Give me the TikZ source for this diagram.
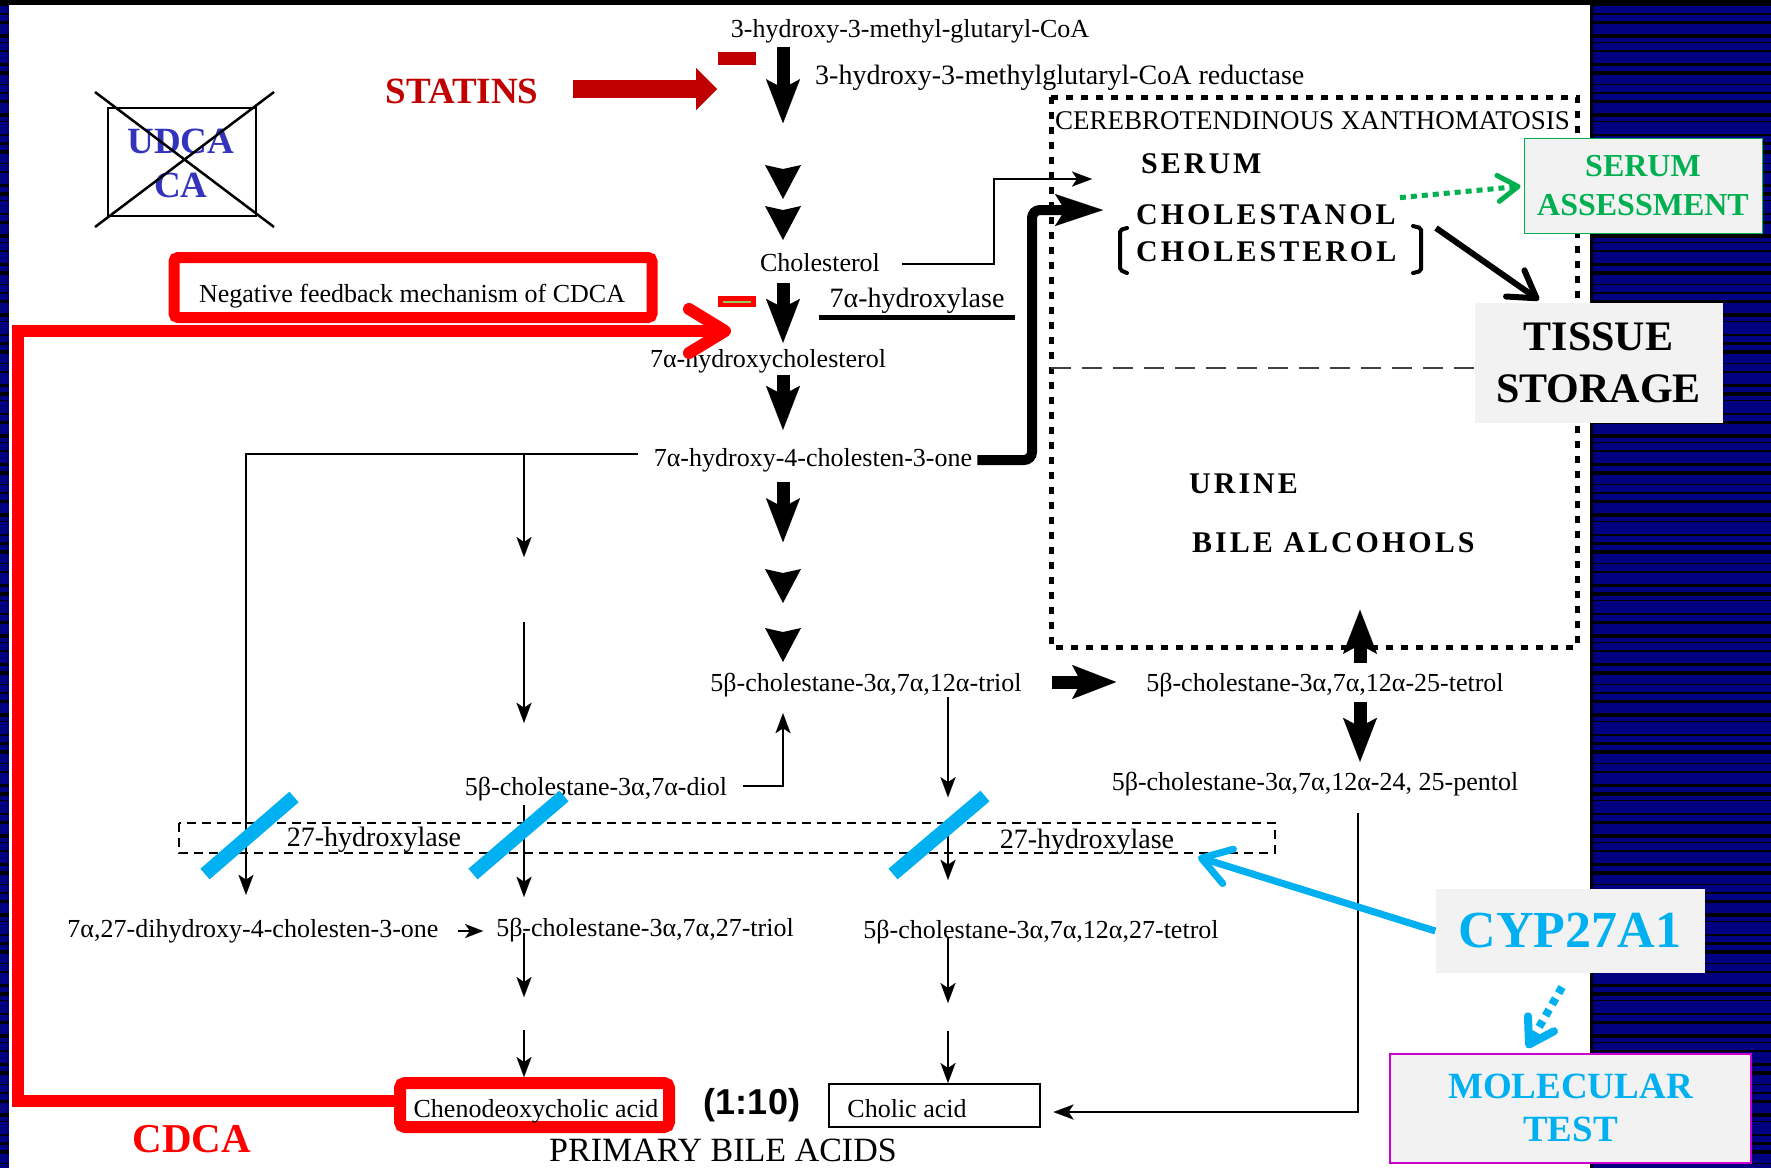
\documentclass[tikz,border=0pt]{standalone}
\usepackage{fontspec}
\setmainfont{Liberation Serif}
\newfontfamily\sansf{Liberation Sans}
\usetikzlibrary{arrows.meta,calc}
\definecolor{navybg}{HTML}{000080}
\definecolor{darkred}{HTML}{C00000}
\definecolor{brightred}{HTML}{FF0000}
\definecolor{cyanb}{HTML}{00B0F0}
\definecolor{greenb}{HTML}{00B050}
\definecolor{udcablue}{HTML}{3333BB}
\definecolor{boxgray}{HTML}{F2F2F2}
\definecolor{magentab}{HTML}{CC00CC}
\definecolor{limeb}{HTML}{92D050}
\newcommand\chevtip[2]{\fill (#1-18,#2) -- (#1,#2+4) -- (#1+18,#2) -- (#1,#2+34) -- cycle;}
\begin{document}
\begin{tikzpicture}[x=1pt,y=-1pt,
  txt/.style={inner sep=0pt,text height=21pt,text depth=3pt,font=\fontsize{26}{30}\selectfont},
  enz/.style={inner sep=0pt,text height=21pt,text depth=4pt,font=\fontsize{28}{32}\selectfont},
  capsb/.style={inner sep=0pt,anchor=west,font=\fontsize{30}{34}\selectfont\bfseries\addfontfeatures{LetterSpace=10}},
  thickar/.style={line width=13pt,-{Stealth[length=44pt,width=34pt,inset=9pt,line width=0.01pt]}},
  thinar/.style={line width=2pt,-{Stealth[length=20pt,width=15pt,inset=5pt,line width=0.01pt]}},
  graybox/.style={fill=boxgray,inner sep=0pt,align=center},
  bigtxt/.style={inner sep=0pt}
]
\useasboundingbox (0,0) rectangle (1771,1168);
% background
\fill[navybg] (0,0) rectangle (1771,1168);
\foreach \k in {0,...,116} {
  \pgfmathtruncatemacro\t{1+mod(\k*5,4)}
  \pgfmathtruncatemacro\yy{\k*10+mod(\k*3,5)}
  \fill[black] (0,\yy) rectangle (1771,\yy+\t);
}
\fill[black] (0,0) rectangle (1771,6);
\fill[black] (1588,5) rectangle (1593,1168);
\fill[white] (9,5) rectangle (1590,1168);

% UDCA / CA crossed box
\node[bigtxt,text=udcablue,font=\fontsize{37}{40}\selectfont\bfseries] (udca) at (181,141) {UDCA};
\node[bigtxt,text=udcablue,font=\fontsize{37}{40}\selectfont\bfseries] (ca) at (181,185) {CA};
\draw[line width=2.5pt] (108,108) rectangle (256,216);
\draw[line width=2.5pt] (95,92) -- (274,227) (95,227) -- (274,92);

% statins
\node[bigtxt,text=darkred,font=\fontsize{37}{40}\selectfont\bfseries] (statins) at (462,91) {STATINS};
\coordinate (stattip) at (717,89);
\draw[darkred,line width=18pt,-{Triangle[length=21pt,width=42pt,line width=0.01pt]},shorten <=34pt] (statins.east |- stattip) -- (stattip);
\fill[darkred] (718,52) rectangle (756,65);

% main column
\coordinate (mainx) at (783,0);
\node[txt] (hmg) at (910,28) {3-hydroxy-3-methyl-glutaryl-CoA};
\node[enz,anchor=west] (reduct) at (815,76) {3-hydroxy-3-methylglutaryl-CoA reductase};
\draw[thickar,shorten <=7pt] (hmg.south -| mainx) -- ++(0,83);
\chevtip{783}{165}
\chevtip{783}{206}
\node[txt] (chol) at (820,262) {Cholesterol};
\node[enz] (h7) at (917,299) {7α-hydroxylase};
\draw[line width=5pt] (819,317) -- (1015,317);
\node[txt] (hchol) at (768,358) {7α-hydroxycholesterol};
\draw[thickar,shorten <=9pt,shorten >=3pt] (chol.south -| mainx) -- (hchol.north -| mainx);
\fill[brightred] (718,296) rectangle (756,307);
\draw[limeb,line width=2pt] (723,301.5) -- (751,301.5);
\node[txt] (hc4) at (813,457) {7α-hydroxy-4-cholesten-3-one};
\draw[thickar,shorten <=5pt,shorten >=15pt] (hchol.south -| mainx) -- (hc4.north -| mainx);
\draw[thickar,shorten <=13pt] (hc4.south -| mainx) -- ++(0,73);
\chevtip{783}{569}
\chevtip{783}{628}
\node[txt] (triol) at (866,682) {5β-cholestane-3α,7α,12α-triol};

% negative feedback box
\node[draw=brightred,line width=11pt,rounded corners=4pt,minimum width=478pt,minimum height=60pt,inner sep=0pt] (negbox) at (413,287.5) {};
\node[txt] (neg) at (412,293) {Negative feedback mechanism of CDCA};

% CXT box
\draw[line width=5pt,dash pattern=on 7pt off 8pt] (1051,97) rectangle (1577,647);
\draw[line width=2.5pt,dash pattern=on 20pt off 11pt,black!75] (1051,368) -- (1474,368);
\node[inner sep=0pt,anchor=west,font=\fontsize{27}{30}\selectfont] (cxt) at (1055,121) {CEREBROTENDINOUS XANTHOMATOSIS};
\node[capsb] (serum) at (1141,164) {SERUM};
\node[capsb] (cholestanol) at (1136,215) {CHOLESTANOL};
\node[capsb] (cholesterol) at (1136,252) {CHOLESTEROL};
\node[capsb] (urine) at (1189,484) {URINE};
\node[capsb] (bile) at (1192,543) {BILE ALCOHOLS};
\draw[line width=4pt,line cap=round,rounded corners=2pt] (1127,228) -- (1120,230) -- (1120,270) -- (1127,273);
\draw[line width=4pt,line cap=round,rounded corners=2pt] (1413,226) -- (1421,228) -- (1421,271) -- (1413,273);

% connectors into CXT
\coordinate (cxtin) at (1103,210);
\coordinate (bendx) at (1032,0);
\draw[line width=10pt,rounded corners=8pt,-{Stealth[length=48pt,width=32pt,inset=10pt,line width=0.01pt]},shorten <=5pt] ([yshift=-3pt]hc4.east) -- ([yshift=-3pt]hc4.east -| bendx) -- (bendx |- cxtin) -- (cxtin);
\coordinate (cxtin2) at (1092,179);
\coordinate (bx) at (994,0);
\draw[thinar,shorten <=22pt] ([yshift=-2pt]chol.east) -- ([yshift=-2pt]chol.east -| bx) -- (bx |- cxtin2) -- (cxtin2);

% left branches
\coordinate (lx) at (246,0);
\coordinate (bx2) at (524,0);
\coordinate (tx) at (948,0);
\coordinate (ux) at (1360,0);
\coordinate (px) at (1358,0);
\node[txt] (diol) at (596,786) {5β-cholestane-3α,7α-diol};
\node[txt] (dihyd) at (253,928) {7α,27-dihydroxy-4-cholesten-3-one};
\node[txt] (triol27) at (645,927) {5β-cholestane-3α,7α,27-triol};
\node[txt] (tetrol27) at (1041,929) {5β-cholestane-3α,7α,12α,27-tetrol};
\node[txt] (tetrol25) at (1325,682) {5β-cholestane-3α,7α,12α-25-tetrol};
\node[txt] (pentol) at (1315,781) {5β-cholestane-3α,7α,12α-24, 25-pentol};

\draw[thinar,shorten <=16pt,shorten >=21pt] ([yshift=3pt]hc4.west) -- ([yshift=3pt]hc4.west -| lx) -- (lx |- dihyd.north);
\draw[thinar] ([yshift=3pt]hc4.west -| bx2) -- ++(0,103);
\draw[thinar] ($(diol.north -| bx2)+(0,-152)$) -- ++(0,101);
\draw[thinar,shorten <=16pt,shorten >=19pt] (diol.east) -- (diol.east -| mainx) -- (mainx |- triol.south);
\draw[thickar,shorten <=30pt,shorten >=30pt] (triol.east) -- (tetrol25.west);
\draw[thinar,shorten <=3pt] (triol.south -| tx) -- ++(0,103);
\draw[thickar,shorten <=7pt] (tetrol25.north -| ux) -- ++(0,-60);
\draw[thickar,shorten <=8pt,shorten >=7pt] (tetrol25.south -| ux) -- (pentol.north -| ux);

% 27-hydroxylase box
\draw[line width=2pt,dash pattern=on 9pt off 6pt] (179,823) rectangle (1275,853);
\node[enz] (hyd1) at (374,838) {27-hydroxylase};
\node[enz] (hyd2) at (1087,840) {27-hydroxylase};
\draw[thinar,shorten <=7pt,shorten >=18pt] (diol.south -| bx2) -- (bx2 |- triol27.north);
\draw[thinar] ($(tetrol27.north -| tx)+(0,-85)$) -- ++(0,48);
\draw[line width=2pt,-{Stealth[length=18pt,width=14pt,inset=5pt,line width=0.01pt]},shorten <=19pt,shorten >=13pt] ([yshift=-3pt]dihyd.east) -- ([yshift=-3pt]dihyd.east -| triol27.west);

% bottom acids
\node[draw=brightred,line width=12pt,rounded corners=5pt,minimum width=269pt,minimum height=44pt,inner sep=0pt] (cheno) at (534.5,1105) {};
\node[txt] (chenot) at (536,1108) {Chenodeoxycholic acid};
\node[draw,line width=2pt,minimum width=211pt,minimum height=43pt,inner sep=0pt] (cholicbox) at (934,1105.5) {};
\node[txt] (cholic) at (907,1108) {Cholic acid};
\node[inner sep=0pt,font=\sansf\bfseries\fontsize{36}{40}\selectfont] (ratio) at (752,1105) {(1:10)};
\node[inner sep=0pt,font=\fontsize{34}{38}\selectfont] (pba) at (723,1150) {PRIMARY BILE ACIDS};
\node[inner sep=0pt,text=brightred,font=\fontsize{41}{44}\selectfont\bfseries] (cdca) at (192,1139) {CDCA};

\draw[thinar,shorten <=6pt] (triol27.center -| bx2) -- ++(0,70);
\draw[thinar] ($(cheno.north -| bx2)+(0,-47)$) -- (cheno.north -| bx2);
\draw[thinar,shorten <=8pt] (tetrol27.center -| tx) -- ++(0,74);
\draw[thinar] ($(cholicbox.north -| tx)+(0,-52)$) -- (cholicbox.north -| tx);
\draw[thinar,shorten <=20pt,shorten >=13pt] (pentol.south -| px) |- ([yshift=-6.5pt]cholicbox.east);

% feedback loop
\coordinate (fbtip) at (731,331);
\coordinate (fbx) at (17.5,0);
\draw[brightred,line width=12pt,-{Straight Barb[length=36pt,width=44pt,round]}] ([yshift=4pt]cheno.west) -- ([yshift=4pt]cheno.west -| fbx) -- (fbx |- fbtip) -- (fbtip);

% blue slashes
\draw[cyanb,line width=14pt] (205,874) -- (294,797);
\draw[cyanb,line width=14pt] (473,874) -- (564,796);
\draw[cyanb,line width=14pt] (893,874) -- (985,796);

% gray boxes
\node[graybox,draw=greenb,line width=1pt,minimum width=238pt,minimum height=95pt,text=greenb,font=\fontsize{32}{39}\selectfont\bfseries] (sa) at (1643,186) {SERUM\\ASSESSMENT};
\node[graybox,minimum width=248pt,minimum height=120pt,font=\fontsize{42}{52}\selectfont\bfseries] (tissue) at (1598.5,362.5) {TISSUE\\STORAGE};
\node[graybox,minimum width=269pt,minimum height=84pt,text=cyanb,font=\fontsize{52}{56}\selectfont\bfseries] (cyp) at (1570,931) {CYP27A1};
\node[graybox,draw=magentab,line width=2pt,minimum width=361pt,minimum height=109pt,text=cyanb,font=\fontsize{37}{43}\selectfont\bfseries] (mol) at (1570.5,1108) {MOLECULAR\\TEST};

% side arrows
\draw[greenb,line width=5pt,dash pattern=on 6pt off 5pt,-{Straight Barb[length=20pt,width=26pt,round]},shorten <=4pt,shorten >=3pt] ([yshift=17pt]cholestanol.east) -- (sa.west);
\coordinate (brk) at (1436,228);
\coordinate (tstip) at (1539,300);
\draw[line width=6pt,-{Straight Barb[length=26pt,width=32pt,round]}] (brk) -- (tstip);
\coordinate (cyptip) at (1198,857);
\draw[cyanb,line width=7pt,-{Straight Barb[length=28pt,width=36pt,round]}] (cyp.west) -- (cyptip);
\coordinate (moltip) at (1527,1048);
\draw[cyanb,line width=8pt,dash pattern=on 7pt off 6pt,-{Straight Barb[length=24pt,width=30pt,round]},shorten <=16pt] (cyp.south) -- (moltip);
\end{tikzpicture}
\end{document}
